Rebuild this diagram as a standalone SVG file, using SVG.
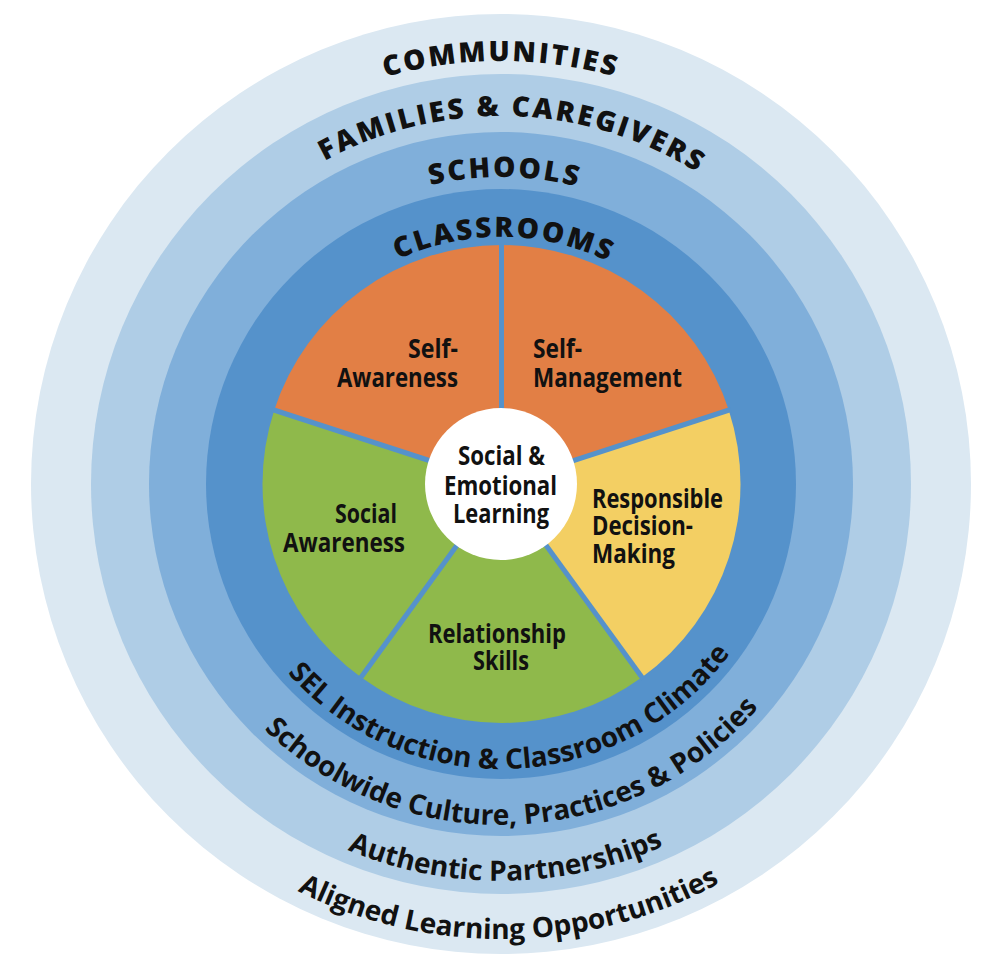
<svg xmlns="http://www.w3.org/2000/svg" width="1008" height="974" viewBox="0 0 1008 974">
  <style>
    .ring-label { font-family: "Open Sans", "Liberation Sans", sans-serif; font-weight: 800; font-size: 28px; fill: #111; letter-spacing: 2.5px; }
    .ring-sub { font-family: "Open Sans", "Liberation Sans", sans-serif; font-weight: 700; font-size: 28px; fill: #111; }
    .pie-label { font-family: "Open Sans", "Liberation Sans", sans-serif; font-weight: 700; font-size: 27px; fill: #111; }
    .divider { stroke: #5592CB; stroke-width: 5; stroke-linecap: butt; }
  </style>
  <defs>
    <path id="p-comm" d="M 78 484 A 423 423 0 0 1 924 484"/>
    <path id="p-fam" d="M 133 484 A 368 368 0 0 1 869 484"/>
    <path id="p-sch" d="M 194 484 A 307 307 0 0 1 808 484"/>
    <path id="p-cls" d="M 254 484 A 247 247 0 0 1 748 484"/>
    <path id="p-sel" d="M 216 484 A 285 285 0 0 0 786 484"/>
    <path id="p-schw" d="M 160 484 A 341 341 0 0 0 842 484"/>
    <path id="p-auth" d="M 104 484 A 397 397 0 0 0 898 484"/>
    <path id="p-align" d="M 46 484 A 455 455 0 0 0 956 484"/>
  </defs>
  <rect width="1008" height="974" fill="#ffffff"/>

  <g id="communities">
    <circle cx="501" cy="484" r="470" fill="#DBE8F2"/>
  </g>
  <g id="families">
    <circle cx="501" cy="484" r="410" fill="#AFCDE6"/>
  </g>
  <g id="schools">
    <circle cx="501" cy="484" r="352" fill="#80AFDA"/>
  </g>
  <g id="classrooms">
    <circle cx="501" cy="484" r="295" fill="#5592CB"/>
  </g>

  <g id="self-management">
    <path d="M 501.5 484 L 501.5 245 A 239 239 0 0 1 728.8 410.14 Z" fill="#E27F45"/>
    <text class="pie-label" x="533" y="358" textLength="49" lengthAdjust="spacingAndGlyphs">Self-</text>
    <text class="pie-label" x="533" y="387" textLength="149" lengthAdjust="spacingAndGlyphs">Management</text>
  </g>
  <g id="responsible-decision-making">
    <path d="M 501.5 484 L 728.8 410.14 A 239 239 0 0 1 641.98 677.36 Z" fill="#F3CF63"/>
    <text class="pie-label" x="592" y="508" textLength="131" lengthAdjust="spacingAndGlyphs">Responsible</text>
    <text class="pie-label" x="592" y="535" textLength="101" lengthAdjust="spacingAndGlyphs">Decision-</text>
    <text class="pie-label" x="592" y="563" textLength="83" lengthAdjust="spacingAndGlyphs">Making</text>
  </g>
  <g id="relationship-skills">
    <path d="M 501.5 484 L 641.98 677.36 A 239 239 0 0 1 361.02 677.36 Z" fill="#8FB94B"/>
    <text class="pie-label" x="428" y="643" textLength="138" lengthAdjust="spacingAndGlyphs">Relationship</text>
    <text class="pie-label" x="473" y="670" textLength="56" lengthAdjust="spacingAndGlyphs">Skills</text>
  </g>
  <g id="social-awareness">
    <path d="M 501.5 484 L 361.02 677.36 A 239 239 0 0 1 274.2 410.14 Z" fill="#8FB94B"/>
    <text class="pie-label" x="335" y="523" textLength="62" lengthAdjust="spacingAndGlyphs">Social</text>
    <text class="pie-label" x="283" y="552" textLength="122" lengthAdjust="spacingAndGlyphs">Awareness</text>
  </g>
  <g id="self-awareness">
    <path d="M 501.5 484 L 274.2 410.14 A 239 239 0 0 1 501.5 245 Z" fill="#E27F45"/>
    <text class="pie-label" x="408" y="358" textLength="50" lengthAdjust="spacingAndGlyphs">Self-</text>
    <text class="pie-label" x="337" y="387" textLength="121" lengthAdjust="spacingAndGlyphs">Awareness</text>
  </g>

  <g id="connectors">
    <line class="divider" x1="501.5" y1="484" x2="501.5" y2="243"/>
    <line class="divider" x1="501.5" y1="484" x2="730.7" y2="409.5"/>
    <line class="divider" x1="501.5" y1="484" x2="643.2" y2="679"/>
    <line class="divider" x1="501.5" y1="484" x2="359.8" y2="679"/>
    <line class="divider" x1="501.5" y1="484" x2="272.3" y2="409.5"/>
  </g>

  <g id="sel-center">
    <circle cx="501" cy="484" r="76" fill="#ffffff"/>
    <text class="pie-label" x="458" y="465" textLength="87" lengthAdjust="spacingAndGlyphs">Social &amp;</text>
    <text class="pie-label" x="444" y="495" textLength="113" lengthAdjust="spacingAndGlyphs">Emotional</text>
    <text class="pie-label" x="453" y="523" textLength="96" lengthAdjust="spacingAndGlyphs">Learning</text>
  </g>

  <g id="ring-labels">
    <text class="ring-label" text-anchor="middle"><textPath href="#p-comm" startOffset="50%">COMMUNITIES</textPath></text>
    <text class="ring-label" text-anchor="middle"><textPath href="#p-fam" startOffset="51.06%">FAMILIES &amp; CAREGIVERS</textPath></text>
    <text class="ring-label" text-anchor="middle"><textPath href="#p-sch" startOffset="50.4%">SCHOOLS</textPath></text>
    <text class="ring-label" text-anchor="middle"><textPath href="#p-cls" startOffset="50.4%">CLASSROOMS</textPath></text>
    <text class="ring-sub" text-anchor="middle"><textPath href="#p-sel" startOffset="51.4%">SEL Instruction &amp; Classroom Climate</textPath></text>
    <text class="ring-sub" text-anchor="middle"><textPath href="#p-schw" startOffset="51.4%">Schoolwide Culture, Practices &amp; Policies</textPath></text>
    <text class="ring-sub" text-anchor="middle"><textPath href="#p-auth" startOffset="50.4%">Authentic Partnerships</textPath></text>
    <text class="ring-sub" text-anchor="middle"><textPath href="#p-align" startOffset="50.6%">Aligned Learning Opportunities</textPath></text>
  </g>
</svg>
